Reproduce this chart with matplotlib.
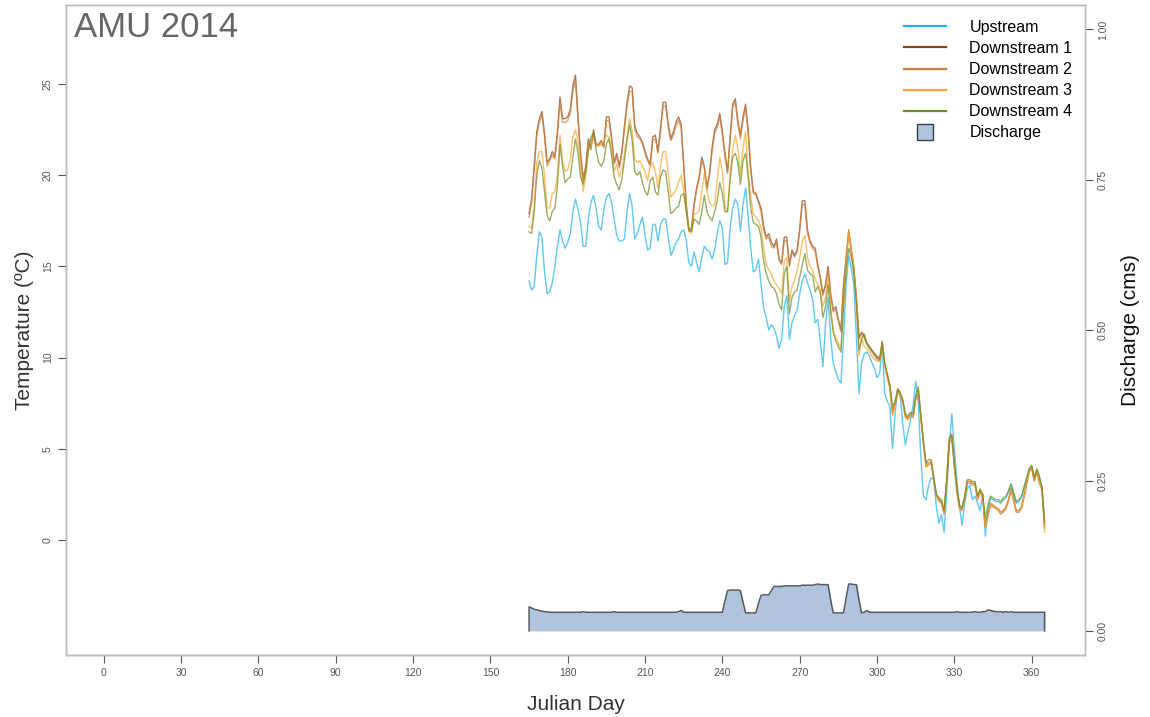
import numpy as np
import matplotlib
matplotlib.use("Agg")
import matplotlib.pyplot as plt
from matplotlib.lines import Line2D

plt.rcParams['font.family'] = ['Liberation Sans', 'DejaVu Sans']

# daily water temperature (degC) and discharge (cms), Julian days 165-365
days = np.arange(165, 366)

upstream = [
    14.2, 13.7, 13.9, 15.6, 16.9, 16.6, 14.7, 13.5, 13.6, 14.1,
    15.0, 16.1, 17.0, 16.4, 16.0, 16.3, 16.8, 18.0, 18.7, 18.1,
    17.4, 16.1, 16.1, 17.6, 18.5, 18.9, 18.2, 17.2, 17.0, 18.1,
    18.8, 19.0, 18.5, 17.6, 16.7, 16.4, 16.4, 16.5, 18.0, 19.0,
    18.3, 16.5, 16.8, 17.3, 17.7, 16.7, 15.9, 16.0, 17.3, 17.3,
    16.4, 17.3, 17.6, 17.6, 16.6, 15.6, 15.9, 16.3, 16.5, 16.9,
    17.0, 16.4, 15.2, 15.0, 15.8, 15.2, 14.7, 15.5, 16.1, 15.9,
    15.8, 15.4, 15.9, 16.8, 17.5, 17.1, 15.1, 15.2, 17.1, 18.2,
    18.7, 18.4, 16.9, 18.4, 19.3, 17.7, 16.0, 14.7, 14.8, 15.4,
    14.0, 12.7, 12.2, 11.5, 11.8, 11.6, 11.2, 10.5, 11.0, 12.8,
    13.4, 11.0, 11.9, 12.3, 12.6, 13.5, 14.2, 14.6, 14.1, 13.7,
    13.2, 11.9, 12.1, 10.9, 9.5, 11.8, 13.3, 11.1, 9.7, 9.2,
    8.8, 8.6, 11.1, 14.0, 15.6, 14.9, 14.0, 11.1, 8.0, 9.7,
    10.2, 10.3, 10.1, 9.7, 9.4, 8.9, 9.1, 10.8, 8.0, 7.6,
    7.3, 5.0, 6.9, 8.2, 7.9, 6.3, 5.2, 5.9, 6.6, 7.4,
    8.7, 7.5, 4.5, 2.4, 2.2, 3.0, 3.4, 3.3, 1.8, 0.9,
    1.4, 0.4, 2.5, 5.0, 6.9, 5.0, 3.2, 1.8, 0.8, 2.0,
    2.8, 3.0, 2.2, 2.4, 2.0, 1.6, 2.5, 0.2, 1.6, 2.3,
    2.2, 2.1, 2.1, 2.0, 2.2, 2.3, 2.6, 3.0, 2.5, 2.0,
    2.1, 2.3, 2.8, 3.3, 3.8, 4.0, 3.3, 3.8, 3.4, 2.8,
    0.9,
]

down1 = [
    17.9, 18.7, 20.5, 22.4, 23.1, 23.5, 22.3, 20.7, 20.9, 21.3,
    21.0, 22.4, 24.3, 23.1, 23.1, 23.2, 23.6, 24.9, 25.5, 23.2,
    21.2, 19.8, 20.5, 22.0, 21.5, 22.5, 21.7, 21.7, 21.9, 21.6,
    23.2, 23.2, 22.1, 20.7, 21.2, 20.5, 21.3, 22.7, 24.0, 24.9,
    24.8, 22.7, 22.3, 22.1, 21.8, 21.3, 20.9, 20.6, 22.1, 22.2,
    21.3, 22.6, 24.0, 24.0, 22.8, 22.0, 22.4, 22.9, 23.2, 22.8,
    20.6, 18.4, 17.0, 17.1, 18.4, 19.3, 19.9, 21.0, 20.5, 19.3,
    20.1, 21.5, 22.5, 22.8, 23.4, 22.4, 21.2, 20.2, 22.1, 23.9,
    24.2, 23.0, 22.2, 23.2, 23.9, 22.5, 20.4, 19.1, 19.0, 18.6,
    18.2, 17.2, 16.6, 16.8, 16.3, 16.1, 16.5, 15.4, 15.2, 16.6,
    16.6, 15.1, 15.9, 15.6, 15.9, 17.1, 18.6, 18.6, 17.0, 16.4,
    16.1, 16.0, 15.1, 14.4, 13.5, 14.0, 15.0, 13.5, 12.6, 12.8,
    12.1, 11.5, 14.0, 15.5, 17.0, 15.9, 14.9, 13.3, 11.1, 11.4,
    11.2, 10.8, 10.6, 10.4, 10.2, 10.0, 9.9, 10.8, 9.6, 9.0,
    8.4, 7.0, 7.5, 8.2, 8.0, 7.6, 6.8, 6.7, 6.9, 6.8,
    7.8, 8.2, 6.8, 5.4, 4.1, 4.2, 4.3, 3.4, 2.5, 2.2,
    2.1, 1.5, 3.2, 5.4, 5.7, 4.1, 2.7, 1.8, 1.7, 2.3,
    3.2, 3.2, 3.1, 3.1, 2.3, 2.7, 2.4, 0.8, 1.4, 2.0,
    1.9, 1.8, 1.7, 1.5, 1.6, 1.8, 2.2, 2.8, 2.2, 1.6,
    1.6, 1.8, 2.4, 3.1, 3.8, 4.0, 3.3, 3.8, 3.2, 2.8,
    0.8,
]

down2 = [
    17.7, 18.5, 20.3, 22.2, 22.9, 23.3, 22.1, 20.5, 20.8, 21.1,
    20.9, 22.2, 24.0, 22.9, 22.9, 23.0, 23.4, 24.6, 25.2, 23.0,
    21.0, 19.7, 20.4, 21.8, 21.4, 22.3, 21.6, 21.6, 21.8, 21.5,
    23.0, 23.0, 22.0, 20.6, 21.0, 20.4, 21.2, 22.5, 23.8, 24.6,
    24.6, 22.5, 22.1, 22.0, 21.7, 21.2, 20.8, 20.5, 21.9, 22.0,
    21.2, 22.4, 23.8, 23.8, 22.6, 21.9, 22.2, 22.7, 23.0, 22.6,
    20.5, 18.3, 16.9, 17.0, 18.3, 19.2, 19.8, 20.8, 20.4, 19.2,
    20.0, 21.3, 22.3, 22.6, 23.2, 22.2, 21.0, 20.1, 21.9, 23.7,
    24.0, 22.8, 22.0, 23.0, 23.7, 22.3, 20.2, 19.0, 18.9, 18.5,
    18.0, 17.0, 16.5, 16.6, 16.1, 16.0, 16.3, 15.3, 15.1, 16.4,
    16.4, 15.0, 15.8, 15.5, 15.8, 16.9, 18.4, 18.4, 16.8, 16.3,
    16.0, 15.8, 15.0, 14.3, 13.4, 13.9, 14.8, 13.4, 12.5, 12.6,
    12.0, 11.4, 13.9, 15.4, 16.8, 15.8, 14.8, 13.2, 11.0, 11.3,
    11.1, 10.7, 10.5, 10.3, 10.1, 9.9, 9.8, 10.7, 9.5, 8.9,
    8.3, 6.9, 7.4, 8.1, 7.9, 7.5, 6.7, 6.6, 6.8, 6.7,
    7.7, 8.1, 6.7, 5.3, 4.0, 4.1, 4.2, 3.3, 2.4, 2.1,
    2.0, 1.4, 3.1, 5.3, 5.6, 4.0, 2.6, 1.7, 1.6, 2.2,
    3.1, 3.1, 3.0, 3.0, 2.2, 2.6, 2.3, 0.7, 1.3, 1.9,
    1.8, 1.7, 1.6, 1.4, 1.5, 1.7, 2.1, 2.7, 2.1, 1.5,
    1.5, 1.7, 2.3, 3.0, 3.7, 3.9, 3.2, 3.7, 3.1, 2.7,
    0.6,
]

down3 = [
    17.2, 17.1, 18.3, 20.7, 21.3, 21.3, 20.0, 18.2, 18.2, 19.0,
    19.1, 20.0, 22.2, 20.8, 20.2, 20.3, 20.9, 22.1, 22.5, 21.8,
    20.5, 19.1, 20.0, 21.4, 21.6, 22.1, 21.6, 21.6, 21.7, 21.9,
    22.2, 22.1, 21.4, 20.2, 20.6, 19.9, 20.3, 21.2, 22.1, 23.1,
    22.4, 20.9, 20.7, 20.8, 20.5, 20.2, 19.7, 20.5, 20.7, 20.2,
    19.3, 20.5, 21.3, 21.3, 20.1, 18.8, 19.0, 19.2, 19.6, 20.0,
    19.1, 18.1, 17.0, 16.8, 17.9, 17.9, 18.1, 19.1, 20.1, 19.1,
    18.5, 18.3, 18.4, 19.7, 21.0, 20.2, 18.3, 18.0, 20.1, 21.4,
    22.2, 21.5, 20.0, 21.5, 22.4, 20.2, 18.8, 17.9, 17.7, 17.5,
    17.1, 16.0, 15.1, 14.8, 14.6, 14.2, 14.0, 13.8, 13.5, 15.3,
    15.5, 13.1, 13.9, 14.2, 14.8, 15.5, 16.4, 16.7, 15.5, 15.0,
    14.8, 14.3, 14.0, 13.7, 12.8, 13.3, 14.4, 12.8, 11.5, 11.1,
    10.8, 10.5, 12.9, 15.1, 16.9, 16.0, 15.0, 13.1, 10.1, 11.1,
    10.6, 10.5, 10.3, 10.1, 9.9, 9.8, 9.8, 10.7, 9.5, 8.9,
    8.3, 6.8, 7.4, 8.1, 8.0, 7.6, 6.7, 6.6, 6.9, 6.8,
    7.8, 8.2, 6.6, 5.2, 4.0, 4.2, 4.3, 3.3, 2.4, 2.1,
    2.1, 1.4, 3.2, 5.4, 5.6, 4.0, 2.6, 1.7, 1.6, 2.3,
    3.2, 3.2, 3.1, 3.0, 2.2, 2.7, 2.4, 0.7, 1.3, 2.0,
    1.9, 1.8, 1.7, 1.5, 1.6, 1.8, 2.2, 2.75, 2.2, 1.55,
    1.6, 1.8, 2.4, 3.1, 3.8, 4.0, 3.3, 3.8, 3.2, 2.8,
    0.4,
]

down4 = [
    16.9, 16.8, 18.0, 20.0, 20.8, 20.4, 19.1, 17.8, 17.5, 18.0,
    18.2, 19.4, 21.7, 20.5, 19.6, 19.8, 19.9, 21.0, 22.0, 21.2,
    19.9, 19.5, 20.2, 21.3, 22.1, 22.3, 21.4, 20.7, 20.5, 20.8,
    21.7, 22.0, 21.1, 19.9, 19.5, 19.2, 19.8, 20.8, 21.9, 22.8,
    21.9, 20.2, 20.0, 20.2, 19.6, 19.1, 18.9, 19.7, 19.9, 19.1,
    18.9, 19.9, 20.3, 20.2, 19.1, 17.9, 18.0, 18.2, 18.3, 18.9,
    19.0, 18.0, 17.0, 16.9, 17.6, 17.5, 17.3, 18.0, 18.9, 18.0,
    17.7, 17.5, 18.0, 18.6, 19.6, 19.0, 18.0, 18.0, 19.7, 21.0,
    21.2, 20.7, 19.5, 20.8, 21.2, 19.9, 18.2, 17.4, 17.3, 17.2,
    16.6, 15.3, 14.6, 14.2, 13.9, 13.8, 13.5, 12.9, 12.6, 14.6,
    15.0, 12.4, 13.3, 13.6, 13.7, 14.4, 15.1, 15.7, 14.8, 14.6,
    14.5, 13.6, 13.9, 13.5, 12.2, 12.8, 14.0, 12.5, 11.4, 10.9,
    10.6, 10.3, 12.8, 14.8, 16.0, 15.5, 14.6, 12.9, 10.4, 11.0,
    11.3, 10.8, 10.6, 10.4, 10.2, 10.1, 9.9, 10.9, 9.7, 9.1,
    8.5, 7.3, 7.6, 8.3, 8.1, 7.7, 6.9, 6.8, 7.0, 6.9,
    7.9, 8.4, 6.8, 5.4, 4.2, 4.4, 4.4, 3.4, 2.5, 2.3,
    2.2, 1.6, 3.3, 5.6, 5.8, 4.2, 2.8, 1.9, 1.8, 2.4,
    3.3, 3.3, 3.2, 3.2, 2.4, 2.8, 2.5, 1.2, 1.9, 2.4,
    2.3, 2.2, 2.2, 2.1, 2.3, 2.4, 2.7, 3.1, 2.6, 2.1,
    2.2, 2.4, 2.9, 3.4, 3.9, 4.1, 3.4, 3.9, 3.5, 2.9,
    1.0,
]

discharge = [
    0.040, 0.038, 0.036, 0.035, 0.034, 0.033, 0.032, 0.032, 0.031, 0.031,
    0.031, 0.031, 0.031, 0.031, 0.031, 0.031, 0.031, 0.031, 0.031, 0.031,
    0.031, 0.032, 0.031, 0.031, 0.031, 0.031, 0.031, 0.031, 0.031, 0.031,
    0.031, 0.031, 0.031, 0.032, 0.031, 0.031, 0.031, 0.031, 0.031, 0.031,
    0.031, 0.031, 0.031, 0.031, 0.031, 0.031, 0.031, 0.031, 0.031, 0.031,
    0.031, 0.031, 0.031, 0.031, 0.031, 0.031, 0.031, 0.031, 0.032, 0.034,
    0.031, 0.031, 0.031, 0.031, 0.031, 0.031, 0.031, 0.031, 0.031, 0.031,
    0.031, 0.031, 0.031, 0.031, 0.031, 0.031, 0.050, 0.067, 0.068, 0.068,
    0.068, 0.068, 0.067, 0.048, 0.030, 0.030, 0.030, 0.030, 0.030, 0.046,
    0.059, 0.060, 0.060, 0.060, 0.067, 0.074, 0.074, 0.074, 0.074, 0.075,
    0.075, 0.075, 0.075, 0.075, 0.075, 0.075, 0.076, 0.076, 0.076, 0.076,
    0.076, 0.077, 0.078, 0.077, 0.077, 0.077, 0.077, 0.052, 0.030, 0.030,
    0.030, 0.030, 0.030, 0.055, 0.078, 0.078, 0.077, 0.077, 0.052, 0.030,
    0.031, 0.034, 0.031, 0.031, 0.031, 0.031, 0.031, 0.031, 0.031, 0.031,
    0.031, 0.031, 0.031, 0.031, 0.031, 0.031, 0.031, 0.031, 0.031, 0.031,
    0.031, 0.031, 0.031, 0.031, 0.031, 0.031, 0.031, 0.031, 0.031, 0.031,
    0.031, 0.031, 0.031, 0.031, 0.031, 0.031, 0.032, 0.031, 0.031, 0.031,
    0.031, 0.031, 0.031, 0.032, 0.031, 0.031, 0.032, 0.032, 0.035, 0.034,
    0.033, 0.032, 0.032, 0.032, 0.031, 0.032, 0.031, 0.032, 0.031, 0.031,
    0.031, 0.031, 0.031, 0.031, 0.031, 0.031, 0.031, 0.031, 0.031, 0.031,
    0.031,
]

series = [
    ("Upstream", upstream, "#1CB2F0"),
    ("Downstream 1", down1, "#8B4513"),
    ("Downstream 2", down2, "#CD7F3F"),
    ("Downstream 3", down3, "#FFA52C"),
    ("Downstream 4", down4, "#6B8E23"),
]
q_fill = "#B0C4DE"
q_edge = "#3A4048"
axis_grey = "#555555"
box_grey = "#BDBDBD"


def r_pad(lo, hi):
    # R style 4% extension of the data range
    p = 0.04 * (hi - lo)
    return lo - p, hi + p


fig = plt.figure(figsize=(11.5, 7.17), dpi=100)
ax = fig.add_axes([0.0574, 0.0865, 0.886, 0.906])
ax2 = ax.twinx()

for name, vals, col in series:
    ax.plot(days, vals, color=col, lw=1.0, alpha=0.7, zorder=3)

ax2.fill_between(days, 0, discharge, color=q_fill, lw=0, zorder=1)
ax2.plot(np.r_[days[0], days, days[-1]], np.r_[0, discharge, 0],
         color=q_edge, lw=1.1, alpha=0.85, zorder=2)

ax.set_xlim(*r_pad(0, 366))
ax.set_ylim(*r_pad(-5, 28))
ax2.set_ylim(*r_pad(0, 1))

ax.set_xticks(np.arange(0, 361, 30))
ax.set_yticks(np.arange(0, 26, 5))
ax2.set_yticks([0, 0.25, 0.5, 0.75, 1.0])
ax2.set_yticklabels(["0.00", "0.25", "0.50", "0.75", "1.00"])

ax.tick_params(axis='both', colors=axis_grey, labelsize=7.5, length=6, width=0.8)
ax2.tick_params(axis='y', colors=axis_grey, labelsize=7.5, length=6, width=0.8)
for lab in ax.get_yticklabels():
    lab.set_rotation(90)
    lab.set_va('center')
for lab in ax2.get_yticklabels():
    lab.set_rotation(90)
    lab.set_va('center')

for a in (ax, ax2):
    for s in a.spines.values():
        s.set_color(box_grey)
        s.set_linewidth(1.0)
ax.spines['left'].set_color("#9E9E9E")
ax.spines['bottom'].set_color("#9E9E9E")

ax.set_xlabel("Julian Day", fontsize=15, color="#333333", labelpad=12)
ax.set_ylabel("Temperature (ºC)", fontsize=15, color="#333333", labelpad=6)
ax2.set_ylabel("Discharge (cms)", fontsize=15, color="#111111", labelpad=9)

ax.text(0.008, 0.992, "AMU 2014", transform=ax.transAxes, fontsize=25,
        color="#666666", ha='left', va='top')

handles = [Line2D([0], [0], color=col, lw=1.6) for _, _, col in series]
handles.append(Line2D([0], [0], ls='none', marker='s', markersize=11,
                      markerfacecolor=q_fill, markeredgecolor=q_edge,
                      markeredgewidth=1.0))
labels = [name for name, _, _ in series] + ["Discharge"]
fig.legend(handles, labels, loc='upper left',
           bbox_to_anchor=(896 / 1150, 1 - 12 / 717),
           frameon=False, fontsize=11.5, handlelength=2.6,
           handletextpad=1.5, labelspacing=0.38, borderpad=0)

fig.savefig("out.png", dpi=100)
